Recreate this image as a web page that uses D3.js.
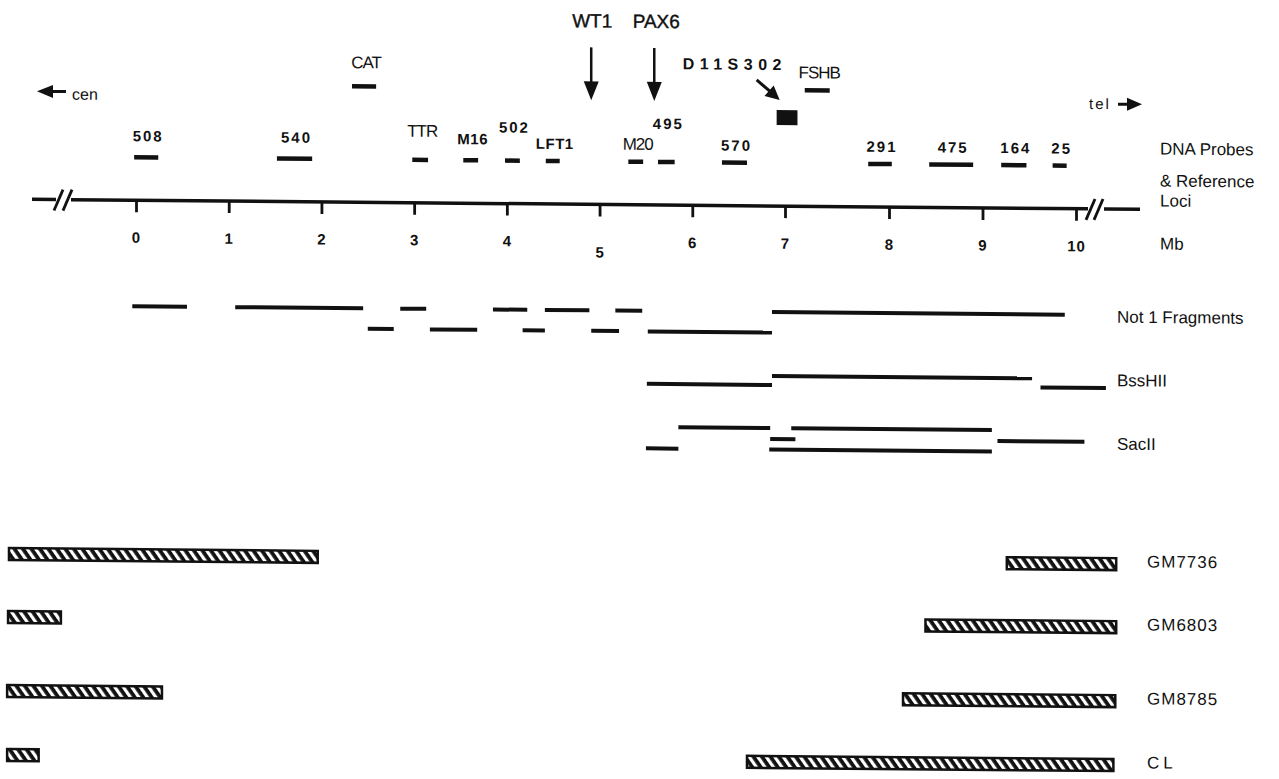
<!DOCTYPE html>
<html>
<head>
<meta charset="utf-8">
<script src="https://cdn.jsdelivr.net/npm/d3@7"></script>
<style>
  body { margin: 0; background: #fff; }
  text { font-family: "Liberation Sans", Arial, sans-serif; fill: #111; }
</style>
</head>
<body>
<svg id="chart" width="1279" height="779"></svg>
<script>
// map positions in Mb
const tickValues = [0, 1, 2, 3, 4, 5, 6, 7, 8, 9, 10];

const probes = [
  { name: '508', start: -0.02, end: 0.24, tier: 'low' },
  { name: '540', start: 1.52, end: 1.90, tier: 'low' },
  { name: 'CAT', start: 2.33, end: 2.59, tier: 'high' },
  { name: 'TTR', start: 2.98, end: 3.15, tier: 'low' },
  { name: 'M16', start: 3.53, end: 3.69, tier: 'low' },
  { name: '502', start: 3.98, end: 4.14, tier: 'low' },
  { name: 'LFT1', start: 4.42, end: 4.57, tier: 'low' },
  { name: 'M20', start: 5.31, end: 5.47, tier: 'low' },
  { name: '495', start: 5.63, end: 5.81, tier: 'low' },
  { name: '570', start: 6.32, end: 6.59, tier: 'low' },
  { name: 'FSHB', start: 7.19, end: 7.43, tier: 'high' },
  { name: '291', start: 7.80, end: 8.03, tier: 'low' },
  { name: '475', start: 8.43, end: 8.90, tier: 'low' },
  { name: '164', start: 9.20, end: 9.47, tier: 'low' },
  { name: '25', start: 9.75, end: 9.90, tier: 'low' }
];

const genes = [
  { name: 'WT1', pos: 4.91 },
  { name: 'PAX6', pos: 5.59 }
];

const marker = { name: 'D11S302', start: 6.91, end: 7.12 };

const notIFragments = [
  { lane: 0, start: -0.04, end: 0.55 },
  { lane: 0, start: 1.07, end: 2.45 },
  { lane: 0, start: 2.85, end: 3.13 },
  { lane: 0, start: 3.85, end: 4.22 },
  { lane: 0, start: 4.41, end: 4.89 },
  { lane: 0, start: 5.17, end: 5.46 },
  { lane: 0, start: 6.86, end: 9.88 },
  { lane: 1, start: 2.50, end: 2.78 },
  { lane: 1, start: 3.17, end: 3.68 },
  { lane: 1, start: 4.17, end: 4.41 },
  { lane: 1, start: 4.91, end: 5.21 },
  { lane: 1, start: 5.52, end: 6.86 }
];

const bssHIIFragments = [
  { lane: 1, start: 5.51, end: 6.86 },
  { lane: 0, start: 6.86, end: 9.53 },
  { lane: 1, start: 9.62, end: 10.32 }
];

const sacIIFragments = [
  { lane: 0, start: 5.85, end: 6.84 },
  { lane: 0, start: 7.06, end: 9.10 },
  { lane: 1, start: 6.84, end: 7.10 },
  { lane: 1, start: 9.16, end: 10.09 },
  { lane: 2, start: 5.50, end: 5.85 },
  { lane: 2, start: 6.83, end: 9.10 }
];

const hybridLines = ['GM7736', 'GM6803', 'GM8785', 'CL'];

const retained = [
  { line: 'GM7736', start: -1.37, end: 1.96 },
  { line: 'GM7736', start: 9.26, end: 10.43 },
  { line: 'GM6803', start: -1.38, end: -0.81 },
  { line: 'GM6803', start: 8.39, end: 10.43 },
  { line: 'GM8785', start: -1.39, end: 0.28 },
  { line: 'GM8785', start: 8.15, end: 10.42 },
  { line: 'CL', start: -1.39, end: -1.05 },
  { line: 'CL', start: 6.59, end: 10.40 }
];

// layout
const ink = '#111';
const tilt = 0.52; // the scanned figure sits slightly askew
const tierY = { high: 83, low: 156 };
const axisY = 199;
const labelLift = { '508': 16, '540': 16, 'TTR': 23, 'M16': 16, '502': 28, '495': 33, 'CAT': 18 };
const narrowLabels = ['CAT', 'TTR', 'M20', 'FSHB'];

const svg = d3.select('#chart');
const root = svg.append('g').attr('transform', `skewY(${tilt})`);

// spacing between 7 and 8 Mb is drawn wider in the original
const x = d3.scaleLinear().domain([0, 7, 8, 10]).range([136, 785, 889, 1076]);

// hatch fill for the deletion bars
const pat = svg.append('defs').append('pattern')
  .attr('id', 'hatch')
  .attr('patternUnits', 'userSpaceOnUse')
  .attr('width', 7).attr('height', 7)
  .attr('patternTransform', 'rotate(-35)');
pat.append('rect').attr('width', 7).attr('height', 7).attr('fill', ink);
pat.append('rect').attr('width', 3.2).attr('height', 7).attr('fill', '#fff');

const arrowHead = (tx, ty, angle, len, half) => {
  const a = angle * Math.PI / 180;
  const bx = tx - len * Math.cos(a), by = ty - len * Math.sin(a);
  const px = -Math.sin(a) * half, py = Math.cos(a) * half;
  return `M${tx},${ty}L${bx + px},${by + py}L${bx - px},${by - py}Z`;
};

// ---- axis line with breaks
const axisG = root.append('g');
[[32, 56], [71, 1088], [1104, 1140]].forEach(s => {
  axisG.append('line')
    .attr('x1', s[0]).attr('x2', s[1]).attr('y1', axisY).attr('y2', axisY)
    .attr('stroke', ink).attr('stroke-width', 3.5);
});
[54, 63, 1086, 1094].forEach(sx => {
  axisG.append('line')
    .attr('x1', sx).attr('y1', axisY + 11).attr('x2', sx + 9).attr('y2', axisY - 10)
    .attr('stroke', ink).attr('stroke-width', 2.8);
});

const axis = root.append('g')
  .attr('transform', `translate(0,${axisY})`)
  .call(d3.axisBottom(x).tickValues(tickValues).tickSize(12).tickPadding(20).tickFormat(d3.format('d')));
axis.select('.domain').remove();
axis.selectAll('.tick line').attr('stroke', ink).attr('stroke-width', 2.8);
axis.selectAll('.tick text')
  .attr('fill', ink)
  .style('font-family', '"Liberation Sans", Arial, sans-serif')
  .style('font-size', '15px').style('font-weight', 'bold')
  .style('letter-spacing', '1px')
  .attr('dy', d => d === 5 ? '1.4em' : '0.71em');

root.append('text').attr('x', 1160).attr('y', 239)
  .style('font-size', '17px').text('Mb');

// ---- probes
root.selectAll('.probe').data(probes).join('line')
  .attr('class', 'probe')
  .attr('x1', d => x(d.start)).attr('x2', d => x(d.end))
  .attr('y1', d => tierY[d.tier]).attr('y2', d => tierY[d.tier])
  .attr('stroke', ink).attr('stroke-width', 4.5);

root.selectAll('.probe-label').data(probes).join('text')
  .attr('class', 'probe-label')
  .attr('x', d => (x(d.start) + x(d.end)) / 2 + 2)
  .attr('y', d => tierY[d.tier] - (labelLift[d.name] || 12))
  .attr('text-anchor', 'middle')
  .style('font-size', d => narrowLabels.includes(d.name) ? '17px' : '15px')
  .style('font-weight', d => narrowLabels.includes(d.name) ? 'normal' : 'bold')
  .style('letter-spacing', d => narrowLabels.includes(d.name) ? '-1px'
    : (/^\d+$/.test(d.name) ? '2px' : '0.5px'))
  .text(d => d.name);

// D11S302 block and its arrow
root.append('rect')
  .attr('x', x(marker.start)).attr('width', x(marker.end) - x(marker.start))
  .attr('y', 103).attr('height', 15).attr('fill', ink);
root.append('line')
  .attr('x1', x(marker.start) - 20).attr('y1', 73)
  .attr('x2', x(marker.start) - 6).attr('y2', 85)
  .attr('stroke', ink).attr('stroke-width', 3);
root.append('path')
  .attr('d', arrowHead(x(marker.start) + 3, 93, 41, 14, 7))
  .attr('fill', ink);
root.append('text')
  .attr('x', x(marker.start) - 94).attr('y', 63)
  .style('font-size', '16px').style('font-weight', 'bold').style('letter-spacing', '5.5px')
  .text(marker.name);

// WT1 / PAX6
const geneG = root.selectAll('.gene').data(genes).join('g').attr('class', 'gene');
geneG.append('line')
  .attr('x1', d => x(d.pos)).attr('x2', d => x(d.pos))
  .attr('y1', 42).attr('y2', 80)
  .attr('stroke', ink).attr('stroke-width', 2.5);
geneG.append('path')
  .attr('d', d => arrowHead(x(d.pos), 95, 90, 19, 7.5))
  .attr('fill', ink);
geneG.append('text')
  .attr('x', d => x(d.pos) + (d.name === 'PAX6' ? 2 : 1)).attr('y', 22)
  .attr('text-anchor', 'middle')
  .style('font-size', '19px')
  .style('stroke', ink).style('stroke-width', '0.4px')
  .text(d => d.name);

// cen / tel
root.append('path').attr('d', arrowHead(37, 91, 180, 16, 6.5)).attr('fill', ink);
root.append('line').attr('x1', 52).attr('x2', 66).attr('y1', 91).attr('y2', 91)
  .attr('stroke', ink).attr('stroke-width', 3);
root.append('text').attr('x', 72).attr('y', 99).style('font-size', '16px').text('cen');
root.append('text').attr('x', 1089).attr('y', 99)
  .style('font-size', '15px').style('letter-spacing', '2px').text('tel');
root.append('line').attr('x1', 1118).attr('x2', 1130).attr('y1', 94).attr('y2', 94)
  .attr('stroke', ink).attr('stroke-width', 3);
root.append('path').attr('d', arrowHead(1142, 94, 0, 15, 6.5)).attr('fill', ink);

root.append('text').attr('x', 1160).attr('y', 144).style('font-size', '17px').text('DNA Probes');
root.append('text').attr('x', 1160).attr('y', 176).style('font-size', '17px').text('& Reference');
root.append('text').attr('x', 1160).attr('y', 196).style('font-size', '17px').text('Loci');

// ---- restriction fragments
const digests = [
  { name: 'Not 1 Fragments', data: notIFragments, lanes: [305, 325.5], labelY: 312.5 },
  { name: 'BssHII', data: bssHIIFragments, lanes: [369, 378], labelY: 376 },
  { name: 'SacII', data: sacIIFragments, lanes: [421, 432, 442.5], labelY: 439.5 }
];

digests.forEach(dg => {
  const g = root.append('g');
  g.selectAll('line').data(dg.data).join('line')
    .attr('x1', d => x(d.start)).attr('x2', d => x(d.end))
    .attr('y1', d => dg.lanes[d.lane]).attr('y2', d => dg.lanes[d.lane])
    .attr('stroke', ink).attr('stroke-width', 4);
  g.append('text').attr('x', 1117).attr('y', dg.labelY)
    .style('font-size', '17px').text(dg.name);
});

// ---- somatic cell hybrids
const yHybrid = d3.scaleOrdinal().domain(hybridLines).range([554, 617, 691, 755]);

root.selectAll('.hybrid').data(retained).join('rect')
  .attr('class', 'hybrid')
  .attr('x', d => x(d.start)).attr('width', d => x(d.end) - x(d.start))
  .attr('y', d => yHybrid(d.line) - 6).attr('height', 12)
  .attr('fill', 'url(#hatch)')
  .attr('stroke', ink).attr('stroke-width', 2.5);

root.selectAll('.hybrid-label').data(hybridLines).join('text')
  .attr('class', 'hybrid-label')
  .attr('x', 1147).attr('y', d => yHybrid(d) + 3)
  .style('font-size', '17px')
  .style('letter-spacing', d => d === 'CL' ? '4px' : '1px')
  .text(d => d);
</script>
</body>
</html>
